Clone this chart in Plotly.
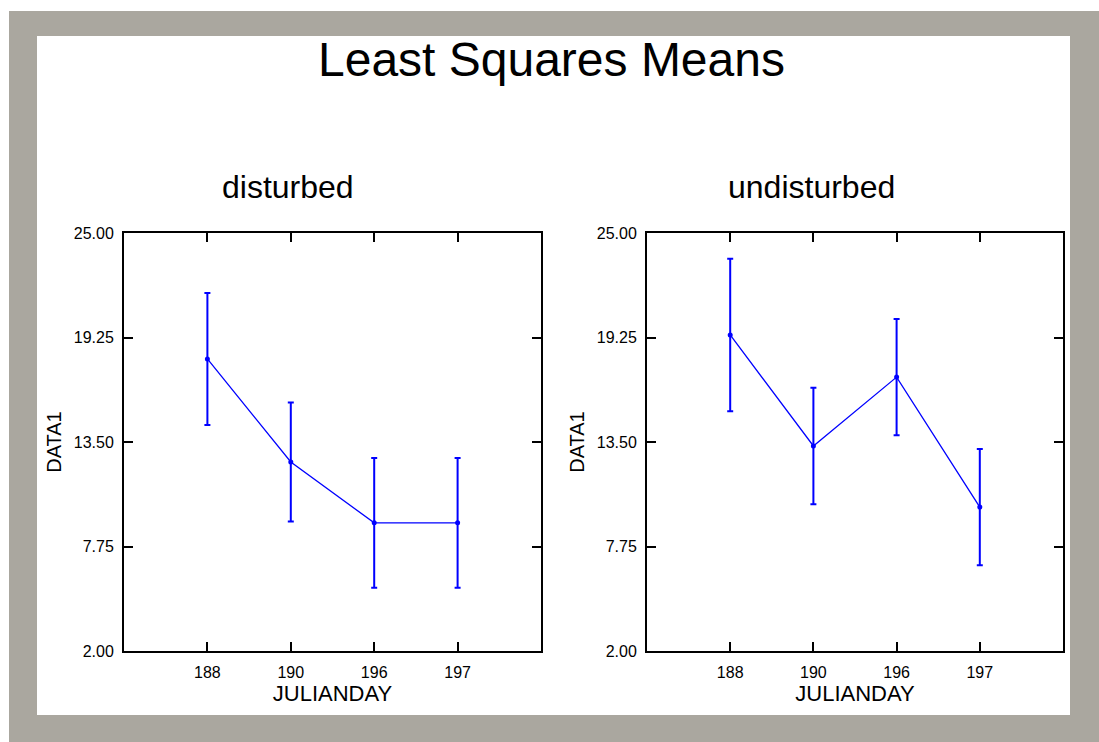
import plotly.graph_objects as go

W, H = 1099, 742

# ---- data ----
days = ["188", "190", "196", "197"]
disturbed_mean = [18.07, 12.40, 9.05, 9.05]
disturbed_err = [3.63, 3.27, 3.57, 3.57]
undisturbed_mean = [19.39, 13.28, 17.07, 9.92]
undisturbed_err = [4.2, 3.2, 3.2, 3.2]
panel_titles = ["disturbed", "undisturbed"]
ytick_vals = [2.0, 7.75, 13.5, 19.25, 25.0]
ytick_text = ["2.00", "7.75", "13.50", "19.25", "25.00"]

BLUE = "#0000ff"
GRAY = "#aaa79f"
FONT = "Liberation Sans, Arial, sans-serif"

def px_x(x):
    return x / W

def px_y(y):
    return 1 - y / H

fig = go.Figure()

series = [(disturbed_mean, disturbed_err), (undisturbed_mean, undisturbed_err)]
for i, (m, e) in enumerate(series):
    ax = "" if i == 0 else "2"
    fig.add_trace(go.Scatter(
        x=list(range(len(days))), y=m,
        mode="lines+markers",
        line=dict(color=BLUE, width=1.3),
        marker=dict(color=BLUE, size=5),
        error_y=dict(type="data", array=e, visible=True, color=BLUE,
                     thickness=2, width=3),
        xaxis="x" + ax, yaxis="y" + ax, showlegend=False,
        hoverinfo="skip",
    ))

# plot area pixel bounds
panels = [(124, 541), (647, 1063)]
ytop, ybot = 233, 651

axis_common = dict(
    showline=True, linecolor="black", linewidth=2, mirror="ticks",
    ticks="inside", ticklen=9, tickwidth=2, tickcolor="black",
    showgrid=False, zeroline=False,
    tickfont=dict(family=FONT, size=16, color="black"),
)

layout = dict(
    width=W, height=H,
    margin=dict(l=0, r=0, t=0, b=0),
    paper_bgcolor="white", plot_bgcolor="white",
    template="none",
    showlegend=False,
)

for i, (x0, x1) in enumerate(panels):
    ax = "" if i == 0 else "2"
    layout["xaxis" + ax] = dict(
        axis_common,
        domain=[px_x(x0), px_x(x1)],
        anchor="y" + ax,
        range=[-1, 4],
        tickvals=list(range(len(days))), ticktext=days,
        ticklabelstandoff=6,
        title=dict(text="JULIANDAY", font=dict(family=FONT, size=22, color="black"), standoff=4),
        automargin=False,
    )
    layout["yaxis" + ax] = dict(
        axis_common,
        domain=[px_y(ybot), px_y(ytop)],
        anchor="x" + ax,
        range=[2, 25],
        tickvals=ytick_vals, ticktext=ytick_text,
        ticklabelstandoff=5,
        title=dict(text="DATA1", font=dict(family=FONT, size=20, color="black"), standoff=7),
        automargin=False,
    )

fig.update_layout(**layout)

# background frame
fig.add_shape(type="rect", xref="paper", yref="paper",
              x0=px_x(9), x1=px_x(1099), y0=px_y(742), y1=px_y(11),
              fillcolor=GRAY, line=dict(width=0), layer="below")
fig.add_shape(type="rect", xref="paper", yref="paper",
              x0=px_x(37), x1=px_x(1070), y0=px_y(715), y1=px_y(36),
              fillcolor="white", line=dict(width=0), layer="below")

fig.add_annotation(text="Least Squares Means", xref="paper", yref="paper",
                   x=px_x(551), y=px_y(60), showarrow=False,
                   xanchor="center", yanchor="middle",
                   font=dict(family=FONT, size=48, color="black"))
for t, cx in zip(panel_titles, [288, 812]):
    fig.add_annotation(text=t, xref="paper", yref="paper",
                       x=px_x(cx), y=px_y(187), showarrow=False,
                       xanchor="center", yanchor="middle",
                       font=dict(family=FONT, size=32, color="black"))

fig.write_html("out.html",
               config={"displayModeBar": False},
               post_script="document.body.style.margin='0';document.body.style.overflow='hidden';")
